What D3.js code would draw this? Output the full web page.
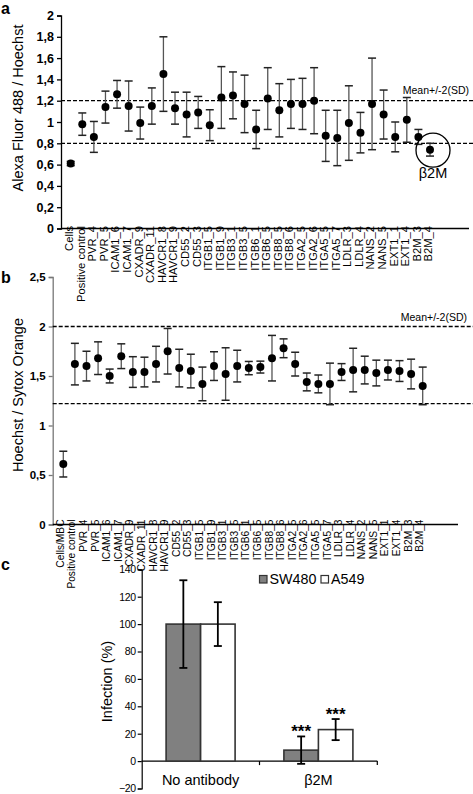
<!DOCTYPE html>
<html>
<head>
<meta charset="utf-8">
<script src="https://cdn.jsdelivr.net/npm/d3@7"></script>
<style>
  html, body { margin: 0; padding: 0; background: #fff; }
  svg { display: block; font-family: "Liberation Sans", Arial, sans-serif; }
</style>
</head>
<body>
<svg id="chart" width="473" height="794"></svg>
<script>
// ---------------- DATA ----------------
const aLabels = ["Cells","Positive control","PVR_4","PVR_5","ICAM1_6","ICAM1_7","CXADR_9","CXADR_11","HAVCR1_8","HAVCR1_9","CD55_2","CD55_3","ITGB1_5","ITGB1_9","ITGB3_1","ITGB3_5","ITGB6_1","ITGB6_5","ITGB8_5","ITGB8_6","ITGA2_5","ITGA2_6","ITGA5_5","ITGA5_7","LDLR_3","LDLR_4","NANS_2","NANS_5","EXT1_1","EXT1_4","B2M_3","B2M_4"];
const aValues = [0.61,0.98,0.86,1.14,1.26,1.15,0.99,1.15,1.45,1.13,1.07,1.09,0.97,1.23,1.25,1.17,0.93,1.22,1.11,1.17,1.17,1.20,0.87,0.85,0.99,0.90,1.17,1.07,0.86,1.02,0.86,0.74];
const aErrors = [0.02,0.105,0.145,0.15,0.13,0.235,0.15,0.17,0.35,0.15,0.21,0.15,0.145,0.29,0.22,0.27,0.18,0.29,0.25,0.23,0.24,0.31,0.24,0.26,0.35,0.19,0.43,0.23,0.14,0.21,0.07,0.06];
const aTicks = [0,0.2,0.4,0.6,0.8,1,1.2,1.4,1.6,1.8,2];
const aThresholds = [0.8, 1.2];
const aHighlight = "B2M_4";
const aHighlightText = "β2M";

const bLabels = ["Cells/MBC","Positive control","PVR_4","PVR_5","ICAM1_6","ICAM1_7","CXADR_9","CXADR_11","HAVCR1_8","HAVCR1_9","CD55_2","CD55_3","ITGB1_5","ITGB1_9","ITGB3_1","ITGB3_5","ITGB6_1","ITGB6_5","ITGB8_5","ITGB8_6","ITGA2_5","ITGA2_6","ITGA5_5","ITGA5_7","LDLR_3","LDLR_4","NANS_2","NANS_5","EXT1_1","EXT1_4","B2M_3","B2M_4"];
const bValues = [0.61,1.62,1.60,1.68,1.50,1.70,1.54,1.54,1.62,1.75,1.58,1.55,1.42,1.60,1.52,1.60,1.58,1.59,1.68,1.78,1.62,1.44,1.42,1.42,1.54,1.56,1.56,1.53,1.56,1.55,1.52,1.40];
const bErrors = [0.13,0.21,0.15,0.165,0.07,0.125,0.155,0.15,0.18,0.23,0.19,0.17,0.17,0.145,0.265,0.16,0.067,0.06,0.23,0.095,0.12,0.09,0.09,0.21,0.085,0.22,0.14,0.13,0.10,0.105,0.15,0.19];
const bTicks = [0,0.5,1,1.5,2,2.5];
const bThresholds = [1.22, 2.0];

const thresholdLabel = "Mean+/-2(SD)";

const cGroups = ["No antibody","β2M"];
const cSeries = ["SW480","A549"];
const cSW480 = [100, 8];
const cSW480Err = [32, 10];
const cA549 = [100, 23];
const cA549Err = [16, 7.7];
const cSignif = [["",""],["***","***"]];
const cTicks = [-20,0,20,40,60,80,100,120,140];
const cColors = ["#808080","#ffffff"];

// ---------------- SETUP ----------------
const svg = d3.select("#chart");
svg.append("rect").attr("width",473).attr("height",794).attr("fill","#fff");
const locale = d3.formatLocale({decimal:",", thousands:".", grouping:[3], currency:["",""]});
const fmt = locale.format("~g");

function dotPanel(opts){
  const g = svg.append("g");
  const x = d3.scalePoint().domain(opts.labels).range(opts.xRange);
  const y = d3.scaleLinear().domain(opts.yDomain).range(opts.yRange);

  // y axis
  const ya = g.append("g").attr("transform",`translate(${opts.axisX},0)`)
    .call(d3.axisLeft(y).tickValues(opts.ticks).tickFormat(fmt).tickSize(4).tickPadding(3));
  ya.select(".domain").attr("stroke",opts.axisColor).attr("stroke-width",1.3);
  ya.selectAll(".tick line").attr("stroke",opts.axisColor).attr("stroke-width",1.3);
  ya.selectAll(".tick text").attr("font-family","Liberation Sans, Arial, sans-serif")
    .attr("font-size",opts.tickFont).attr("font-weight","bold").attr("fill","#000");

  // x axis line
  g.append("line").attr("x1",opts.axisX).attr("x2",opts.xAxisEnd)
    .attr("y1",y(0)).attr("y2",y(0)).attr("stroke","#000").attr("stroke-width",1.3);

  // thresholds
  g.selectAll("line.thr").data(opts.thresholds).join("line").attr("class","thr")
    .attr("x1",opts.axisX).attr("x2",473).attr("y1",d=>y(d)).attr("y2",d=>y(d))
    .attr("stroke","#000").attr("stroke-width",1.3).attr("stroke-dasharray","4,2");
  g.append("text").attr("x",opts.meanX).attr("y",y(d3.max(opts.thresholds)) + opts.meanDy)
    .attr("text-anchor","end").attr("font-size",10.5).text(thresholdLabel);

  // x labels
  g.selectAll("text.xl").data(opts.labels).join("text").attr("class","xl")
    .attr("transform",d=>`translate(${x(d)+opts.labelDx},${y(0)-opts.labelGap}) rotate(-90)`)
    .attr("dy","0.35em").attr("text-anchor","end").attr("font-size",opts.labelFont)
    .text(d=>d);

  const data = opts.labels.map((l,i)=>({l, v:opts.values[i], e:opts.errors[i]}));
  const eb = g.selectAll("g.eb").data(data).join("g").attr("class","eb");
  eb.append("line").attr("x1",d=>x(d.l)).attr("x2",d=>x(d.l))
    .attr("y1",d=>y(d.v-d.e)).attr("y2",d=>y(d.v+d.e)).attr("stroke","#555").attr("stroke-width",1.3);
  [-1,1].forEach(s=>{
    eb.append("line").attr("x1",d=>x(d.l)-4).attr("x2",d=>x(d.l)+4)
      .attr("y1",d=>y(d.v+s*d.e)).attr("y2",d=>y(d.v+s*d.e)).attr("stroke","#222").attr("stroke-width",1.5);
  });
  eb.append("circle").attr("cx",d=>x(d.l)).attr("cy",d=>y(d.v)).attr("r",4).attr("fill","#000");

  // y title
  g.append("text").attr("transform",`translate(${opts.titleX},${opts.titleY}) rotate(-90)`)
    .attr("text-anchor","middle").attr("font-size",14.5).text(opts.title);
  // panel letter
  g.append("text").attr("x",1).attr("y",opts.letterY).attr("font-size",16).attr("font-weight","bold").text(opts.letter);
  return {x,y,g};
}

// ---------------- PANEL A ----------------
const A = dotPanel({
  labels:aLabels, values:aValues, errors:aErrors, ticks:aTicks, thresholds:aThresholds,
  xRange:[70.7,430], yDomain:[0,2], yRange:[228.5,15.5], axisX:61, xAxisEnd:469,
  axisColor:"#000", tickFont:12.5, labelFont:11.2, labelDx:-1.5, labelGap:2.5,
  meanX:469, meanDy:-7, title:"Alexa Fluor 488 / Hoechst", titleX:23, titleY:108,
  letter:"a", letterY:14
});
// highlight circle
const hi = aLabels.indexOf(aHighlight);
A.g.append("circle").attr("cx",A.x(aHighlight)+3).attr("cy",A.y(aValues[hi])+0.5).attr("r",17)
  .attr("fill","none").attr("stroke","#000").attr("stroke-width",1.3);
A.g.append("text").attr("x",A.x(aHighlight)+3).attr("y",A.y(aValues[hi])+28)
  .attr("text-anchor","middle").attr("font-size",14.5).text(aHighlightText);

// ---------------- PANEL B ----------------
dotPanel({
  labels:bLabels, values:bValues, errors:bErrors, ticks:bTicks, thresholds:bThresholds,
  xRange:[63.3,422.7], yDomain:[0,2.5], yRange:[524.5,277], axisX:52.7, xAxisEnd:458,
  axisColor:"#777", tickFont:11.5, labelFont:10.2, labelDx:-3, labelGap:5,
  meanX:467, meanDy:-6, title:"Hoechst / Sytox Orange", titleX:23, titleY:395,
  letter:"b", letterY:283
});

// ---------------- PANEL C ----------------
(function(){
  const g = svg.append("g");
  const y = d3.scaleLinear().domain([-20,140]).range([788.5,569.3]);
  const x0 = d3.scaleBand().domain(cGroups).range([141.7,377.3]);
  const x1 = d3.scaleBand().domain(cSeries).range([x0.bandwidth()/2-34.5, x0.bandwidth()/2+34.5]);
  const ya = g.append("g").attr("transform","translate(141.7,0)")
    .call(d3.axisLeft(y).tickValues(cTicks).tickSize(4).tickPadding(2));
  ya.select(".domain").attr("stroke","#000").attr("stroke-width",1.2);
  ya.selectAll(".tick line").attr("stroke","#000").attr("stroke-width",1.2);
  ya.selectAll(".tick text").attr("font-family","Liberation Sans, Arial, sans-serif")
    .attr("font-size",10.5).attr("letter-spacing","-0.4px").attr("fill","#000");

  // x axis at 0
  g.append("line").attr("x1",141.7).attr("x2",377.3).attr("y1",y(0)).attr("y2",y(0))
    .attr("stroke","#000").attr("stroke-width",1.2);
  g.selectAll("line.xt").data(cGroups).join("line").attr("class","xt")
    .attr("x1",d=>x0(d)+x0.bandwidth()).attr("x2",d=>x0(d)+x0.bandwidth())
    .attr("y1",y(0)).attr("y2",y(0)+4).attr("stroke","#000").attr("stroke-width",1.2);
  g.selectAll("text.xg").data(cGroups).join("text").attr("class","xg")
    .attr("x",d=>x0(d)+x0.bandwidth()/2).attr("y",785).attr("text-anchor","middle")
    .attr("font-size",14.5).text(d=>d);

  const vals = [cSW480, cA549], errs = [cSW480Err, cA549Err];
  const data = [];
  cGroups.forEach((gr,i)=>cSeries.forEach((s,j)=>data.push({gr,s,j,v:vals[j][i],e:errs[j][i],sig:cSignif[i][j]})));
  g.selectAll("rect.bar").data(data).join("rect").attr("class","bar")
    .attr("x",d=>x0(d.gr)+x1(d.s)).attr("width",x1.bandwidth())
    .attr("y",d=>y(d.v)).attr("height",d=>y(0)-y(d.v))
    .attr("fill",d=>cColors[d.j]).attr("stroke","#333").attr("stroke-width",1.6);
  const cx = d=>x0(d.gr)+x1(d.s)+x1.bandwidth()/2;
  g.selectAll("line.ev").data(data).join("line").attr("class","ev")
    .attr("x1",cx).attr("x2",cx).attr("y1",d=>y(d.v-d.e)).attr("y2",d=>y(d.v+d.e))
    .attr("stroke","#000").attr("stroke-width",1.8);
  [-1,1].forEach(s=>{
    g.selectAll("line.ec"+s).data(data).join("line")
      .attr("x1",d=>cx(d)-4).attr("x2",d=>cx(d)+4)
      .attr("y1",d=>y(d.v+s*d.e)).attr("y2",d=>y(d.v+s*d.e))
      .attr("stroke","#000").attr("stroke-width",1.8);
  });
  g.selectAll("text.sig").data(data.filter(d=>d.sig)).join("text").attr("class","sig")
    .attr("x",cx).attr("y",d=>y(d.v+d.e)+1).attr("text-anchor","middle")
    .attr("font-size",17).attr("font-weight","bold").text(d=>d.sig);

  // legend
  const lg = g.selectAll("g.lg").data(cSeries).join("g").attr("class","lg")
    .attr("transform",(d,i)=>`translate(${259.5 + i*61.5},575.5)`);
  lg.append("rect").attr("width",7.5).attr("height",7.5)
    .attr("fill",(d,i)=>cColors[i]).attr("stroke","#333").attr("stroke-width",1.2);
  lg.append("text").attr("x",10).attr("y",8).attr("font-size",14.3).text(d=>d);

  g.append("text").attr("transform",`translate(112,681.5) rotate(-90)`)
    .attr("text-anchor","middle").attr("font-size",14.5).text("Infection (%)");
  g.append("text").attr("x",1).attr("y",570).attr("font-size",16).attr("font-weight","bold").text("c");
})();
</script>
</body>
</html>
